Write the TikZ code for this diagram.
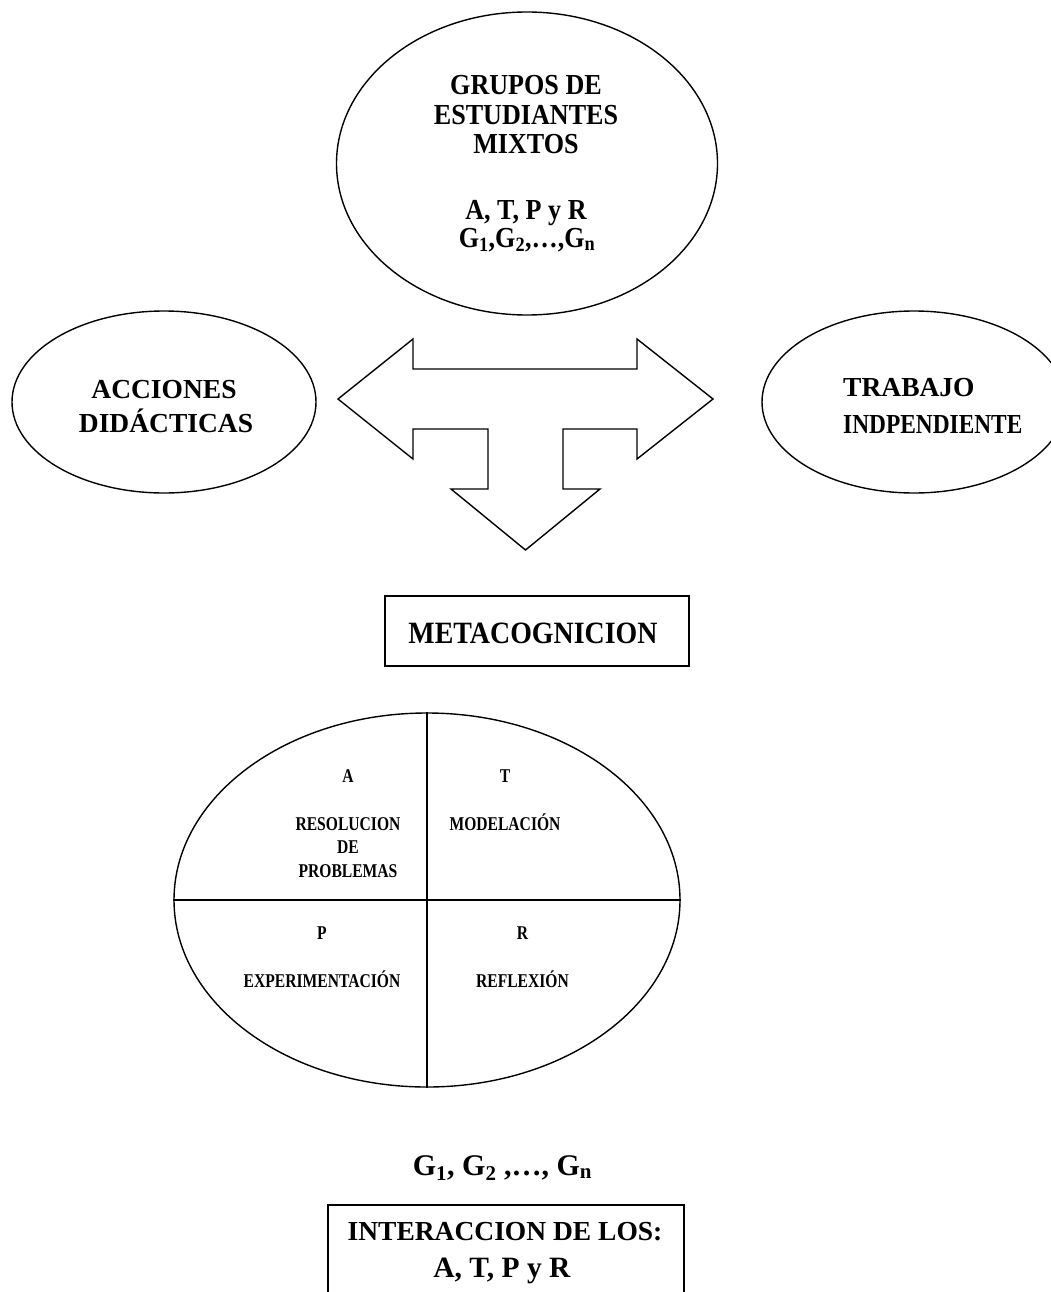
\documentclass[tikz,border=0pt]{standalone}
\usepackage{fontspec}
\setmainfont{Liberation Serif}
\newfontfamily\tallserif[FakeStretch=0.9]{Liberation Serif}
\newfontfamily\narrowserif[FakeStretch=0.8]{Liberation Serif}
\usetikzlibrary{shapes.geometric}
\tikzset{
  shapeline/.style={draw=black, line width=1.4pt},
  oval/.style={shapeline, ellipse, inner sep=0pt},
  boxnode/.style={shapeline, rectangle, inner sep=0pt},
  txt/.style={anchor=base, inner sep=0pt, align=center},
  bigtxt/.style={txt, font=\tallserif\fontsize{29}{30}\selectfont\bfseries},
  sidetxt/.style={txt, font=\fontsize{27.5}{30}\selectfont\bfseries},
  qtxt/.style={txt, font=\narrowserif\fontsize{19.5}{20}\selectfont\bfseries},
}
\begin{document}
\begin{tikzpicture}[x=1pt,y=-1pt]
\useasboundingbox (0,0) rectangle (1051,1292);
\clip (0,0) rectangle (1051,1292);

% top ellipse
\node[oval, minimum width=381pt, minimum height=303pt] (grupos) at (527,163.5) {};
\node[bigtxt] (g1) at (526,95) {GRUPOS DE};
\node[bigtxt] (g2) at (526,125) {ESTUDIANTES};
\node[bigtxt] (g3) at (526,154) {MIXTOS};
\node[bigtxt] (g4) at (526,219) {A, T, P y R};
\node[bigtxt] (g5) at (527,247) {G\textsubscript{1},G\textsubscript{2},…,G\textsubscript{n}};

% side ellipses
\node[oval, minimum width=304pt, minimum height=182pt] (acc) at (164,402) {};
\node[sidetxt] (acc1) at (164,398) {ACCIONES};
\node[sidetxt] (acc2) at (166,432) {DIDÁCTICAS};

\node[oval, minimum width=304pt, minimum height=182pt] (trab) at (914,402) {};
\node[sidetxt, anchor=base west] (trab1) at (843,396) {TRABAJO};
\node[sidetxt, anchor=base west] (trab2) at (843,433) {\scalebox{0.85}[1]{INDPENDIENTE}};

% three-way block arrow
\draw[shapeline, line join=miter]
  (338,399) -- (413,339) -- (413,369) -- (637,369) -- (637,339) -- (713,399)
  -- (637,459) -- (637,429) -- (563,429) -- (563,489) -- (600,489) -- (525.5,550)
  -- (451,489) -- (488,489) -- (488,429) -- (413,429) -- (413,459) -- cycle;

% metacognicion box
\node[boxnode, minimum width=304pt, minimum height=70pt] (meta) at (537,631) {};
\node[txt, font=\tallserif\fontsize{31}{32}\selectfont\bfseries] (metat) at (533,643) {METACOGNICION};

% quadrant ellipse
\node[oval, minimum width=506pt, minimum height=374pt] (quad) at (427,900) {};
\draw[shapeline] (quad.north) -- (quad.south);
\draw[shapeline] (quad.west) -- (quad.east);
\node[qtxt] (qa) at (348,782) {A};
\node[qtxt] (qa1) at (348,830) {RESOLUCION};
\node[qtxt] (qa2) at (348,853) {DE};
\node[qtxt] (qa3) at (348,877) {PROBLEMAS};
\node[qtxt] (qt) at (505,782) {T};
\node[qtxt] (qt1) at (505,830) {MODELACIÓN};
\node[qtxt] (qp) at (322,939) {P};
\node[qtxt] (qp1) at (322,987) {EXPERIMENTACIÓN};
\node[qtxt] (qr) at (522.5,939) {R};
\node[qtxt] (qr1) at (522.5,987) {REFLEXIÓN};

% bottom
\node[txt, font=\fontsize{30}{30}\selectfont\bfseries] (gline) at (502.5,1175) {G\textsubscript{1}, G\textsubscript{2} ,…, G\textsubscript{n}};
\node[boxnode, minimum width=356pt, minimum height=110pt] (inter) at (506,1260) {};
\node[sidetxt] (int1) at (505,1240) {INTERACCION DE LOS:};
\node[txt, font=\fontsize{29.5}{30}\selectfont\bfseries] (int2) at (502,1277) {A, T, P y R};
\end{tikzpicture}
\end{document}
